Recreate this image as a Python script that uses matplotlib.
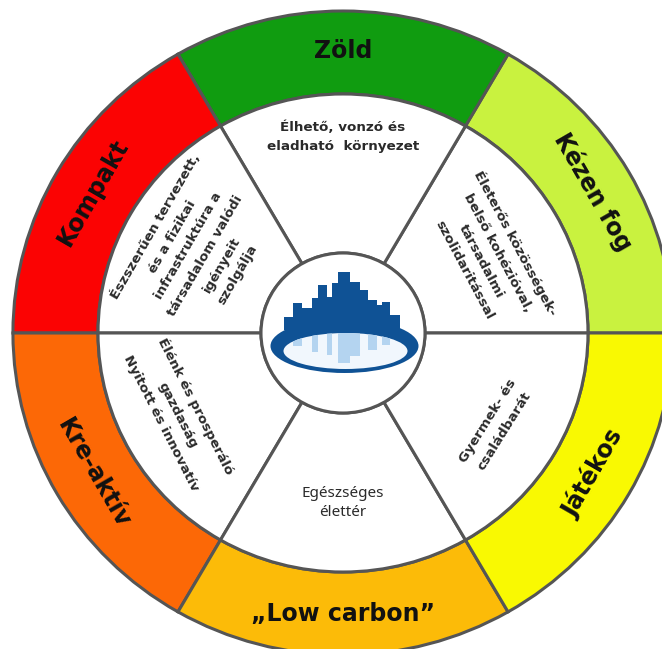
import numpy as np
import matplotlib
matplotlib.use('Agg')
import matplotlib.pyplot as plt
from matplotlib.patches import Circle, Ellipse, Rectangle

# ---------------- data ----------------
outer_labels = ['Kézen fog', 'Zöld', 'Kompakt', 'Kre-aktív', '„Low carbon”', 'Játékos']
outer_colors = ['#c9f23f', '#109c10', '#fb0303', '#fc6806', '#fcbb08', '#f9f902']
segment_shares = [1, 1, 1, 1, 1, 1]
inner_texts = [
    'Életerős közösségek-\nbelső kohézióval,\ntársadalmi\nszolidaritással',
    'Élhető, vonzó és\neladható  környezet',
    'Észszerűen tervezett,\nés a fizikai\ninfrastruktúra a\ntársadalom valódi\nigényeit\nszolgálja',
    'Élénk és prosperáló\ngazdaság\nNyitott és innovatív',
    'Egészséges\nélettér',
    'Gyermek- és\ncsaládbarát',
]
# logo skyline (pixel coords of the reference): left, right, top
bld_left = [284.0, 293.3, 301.7, 311.7, 318.3, 326.7, 331.7, 338.3, 350.0, 360.0, 368.3, 376.7, 381.7, 390.0]
bld_right = [293.3, 301.7, 311.7, 318.3, 326.7, 331.7, 338.3, 350.0, 360.0, 368.3, 376.7, 381.7, 390.0, 400.0]
bld_top = [316.7, 303.3, 308.0, 298.3, 285.0, 296.7, 283.3, 271.7, 281.7, 290.0, 300.0, 305.0, 301.7, 315.0]
# reflections: left, right, bottom
ref_left = [293.3, 311.7, 326.7, 338.3, 350.0, 368.3, 381.7]
ref_right = [301.7, 318.3, 331.7, 350.0, 360.0, 376.7, 390.0]
ref_bottom = [346.0, 352.0, 355.0, 363.0, 356.0, 350.0, 345.0]

# ---------------- layout ----------------
W, H = 662, 649
CX, CY = 343, 333          # wheel centre in pixels
SX = 1.025                 # slight horizontal stretch of the reference
R_OUT, R_IN, R_HUB = 322, 239, 80
EDGE = '#555555'

def px(x):
    return (x - CX) / SX

def py(y):
    return CY - y

fig = plt.figure(figsize=(W / 100, H / 100), dpi=100)
ax = fig.add_axes([0, 0, 1, 1])

# outer coloured ring
ax.pie(segment_shares, colors=outer_colors, radius=R_OUT, startangle=0,
       counterclock=True,
       wedgeprops=dict(width=R_OUT - R_IN, edgecolor=EDGE, linewidth=2.2))
# inner white ring
ax.pie(segment_shares, colors=['white'] * 6, radius=R_IN, startangle=0,
       counterclock=True,
       wedgeprops=dict(width=R_IN - R_HUB, edgecolor=EDGE, linewidth=2.2))
ax.add_patch(Circle((0, 0), R_HUB, facecolor='white', edgecolor=EDGE, lw=2.2, zorder=5))

ax.set_aspect('auto')
ax.set_xlim(px(0), px(W))
ax.set_ylim(py(H), py(0))
ax.axis('off')

n = len(segment_shares)
mids = [(i + 0.5) * 360 / n for i in range(n)]

def rot_for(theta):
    return theta - 90 if 0 < theta < 180 else (theta + 90) % 360

# outer labels
r_lab = (R_OUT + R_IN) / 2 + 1
for lab, th in zip(outer_labels, mids):
    t = np.deg2rad(th)
    ax.text(r_lab * np.cos(t), r_lab * np.sin(t), lab, rotation=rot_for(th),
            rotation_mode='anchor', ha='center', va='center', fontsize=17,
            fontweight='bold', family='DejaVu Sans', color='#111111', zorder=6)

# inner texts
inner_r = [163, 196, 165, 180, 170, 176]
inner_ang = [28, 90, 150, 207, 270, 328]
for i, (txt, r, th) in enumerate(zip(inner_texts, inner_r, inner_ang)):
    t = np.deg2rad(th)
    kw = dict(fontsize=9.7, fontweight='bold', family='DejaVu Sans', linespacing=1.6)
    if i == 4:
        kw = dict(fontsize=11, fontweight='normal', family='Noto Sans', linespacing=1.4)
    ax.text(r * np.cos(t), r * np.sin(t), txt, rotation=rot_for(th),
            rotation_mode='anchor', ha='center', va='center', multialignment='center',
            color='#2a2a2a', zorder=6, **kw)

# ---------------- logo ----------------
DARK = '#0f5295'
LIGHT = '#b4d4f0'
outer_ell = Ellipse((px(344.5), py(346)), 148 / SX, 54, facecolor=DARK, edgecolor='none', zorder=7)
ax.add_patch(outer_ell)
for l, r, t in zip(bld_left, bld_right, bld_top):
    ax.add_patch(Rectangle((px(l), py(330)), (r - l) / SX, py(t) - py(330),
                           facecolor=DARK, edgecolor='none', zorder=7))
inner_ell = Ellipse((px(345.5), py(351)), 124 / SX, 36, facecolor='#f1f7fd', edgecolor='none', zorder=8)
ax.add_patch(inner_ell)
for l, r, b in zip(ref_left, ref_right, ref_bottom):
    rect = Rectangle((px(l), py(b)), (r - l) / SX, py(332) - py(b),
                     facecolor=LIGHT, edgecolor='none', zorder=9)
    ax.add_patch(rect)
    rect.set_clip_path(inner_ell)

fig.savefig('out.png', dpi=100, facecolor='white')
